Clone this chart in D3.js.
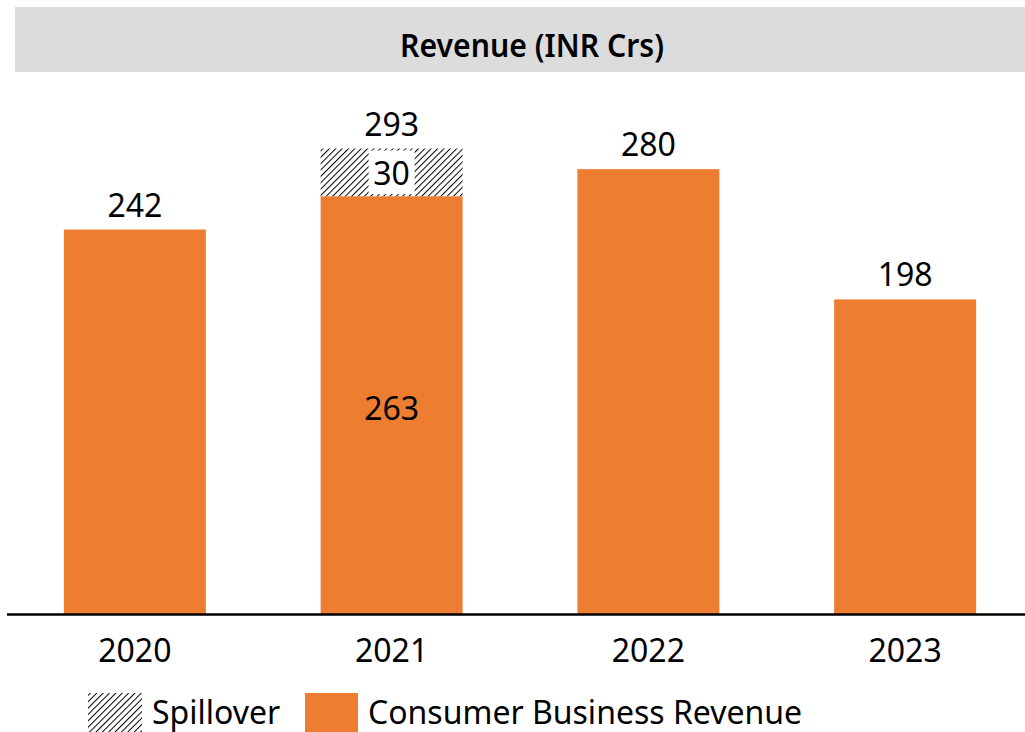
<!DOCTYPE html>
<html><head><meta charset="utf-8">
<script src="https://cdn.jsdelivr.net/npm/d3@7"></script>
<style>html,body{margin:0;padding:0;background:#fff;overflow:hidden}svg{display:block}</style>
</head><body>
<script>
const years = ["2020","2021","2022","2023"];
const consumer = [242, 263, 280, 198];
const spillover = [0, 30, 0, 0];
const totals = [242, 293, 280, 198];
const titleText = "Revenue (INR Crs)";
const legendLabels = ["Spillover", "Consumer Business Revenue"];

const W = 1025, H = 732;
const FONT = "'Noto Sans', 'Open Sans', sans-serif";
const ORANGE = "#ED7D31";
const FS = 32;
const svg = d3.select("body").append("svg").attr("width", W).attr("height", H);

const defs = svg.append("defs");
const pat = defs.append("pattern").attr("id","hatch").attr("patternUnits","userSpaceOnUse")
  .attr("width",4.5).attr("height",4.5).attr("patternTransform","rotate(45)");
pat.append("rect").attr("width",4.5).attr("height",4.5).attr("fill","#fff");
pat.append("line").attr("x1",0).attr("y1",0).attr("x2",0).attr("y2",4.5).attr("stroke","#000").attr("stroke-width",2);

// title band
svg.append("rect").attr("x",15).attr("y",7).attr("width",W-15).attr("height",65).attr("fill","#dcdcdc");
svg.append("text").attr("x",532).attr("y",57).attr("text-anchor","middle")
  .attr("font-family",FONT).attr("font-size",33).attr("font-weight",600).attr("fill","#000")
  .attr("textLength",264).attr("lengthAdjust","spacingAndGlyphs").text(titleText);

const x = d3.scaleBand().domain(years).range([6.5, 1033.5]).paddingInner(0.447).paddingOuter(0.2235);
const y = d3.scaleLinear().domain([0, 293]).range([614, 148.5]);

const g = svg.append("g");
g.selectAll("rect.c").data(years).join("rect").attr("class","c")
  .attr("x", d => x(d)).attr("width", x.bandwidth())
  .attr("y", (d,i) => y(consumer[i])).attr("height", (d,i) => y(0) - y(consumer[i]))
  .attr("fill", ORANGE);
g.selectAll("rect.s").data(years.filter((d,i)=>spillover[i]>0)).join("rect").attr("class","s")
  .attr("x", d => x(d)).attr("width", x.bandwidth())
  .attr("y", d => { const i = years.indexOf(d); return y(consumer[i] + spillover[i]); })
  .attr("height", d => { const i = years.indexOf(d); return y(consumer[i]) - y(consumer[i] + spillover[i]); })
  .attr("fill", "url(#hatch)");

// axis
const axis = d3.axisBottom(x).tickSize(0).tickPadding(25);
const ax = svg.append("g").attr("transform", `translate(0,${y(0)})`).call(axis);
ax.select(".domain").remove();
ax.selectAll("text").attr("font-family",FONT).attr("font-size",FS).attr("fill","#000");
svg.append("line").attr("x1",7).attr("x2",W).attr("y1",y(0)+0.5).attr("y2",y(0)+0.5).attr("stroke","#000").attr("stroke-width",2.5);

// total labels
g.selectAll("text.t").data(years).join("text").attr("class","t")
  .attr("x", d => x(d) + x.bandwidth()/2).attr("y", (d,i) => y(totals[i]) - 13)
  .attr("text-anchor","middle").attr("font-family",FONT).attr("font-size",FS).attr("fill","#000")
  .text((d,i) => totals[i]);

years.forEach((d,i) => {
  if (spillover[i] > 0) {
    const cx = x(d) + x.bandwidth()/2;
    const sy = (y(consumer[i]) + y(consumer[i]+spillover[i]))/2;
    g.append("rect").attr("x", cx-23).attr("y", y(consumer[i]+spillover[i])+2).attr("width",46)
      .attr("height", y(consumer[i]) - y(consumer[i]+spillover[i]) - 4).attr("fill","#fff");
    g.append("text").attr("x",cx).attr("y",sy).attr("dominant-baseline","central").attr("text-anchor","middle")
      .attr("font-family",FONT).attr("font-size",FS).text(spillover[i]);
    g.append("text").attr("x",cx).attr("y",(y(0)+y(consumer[i]))/2 + 2).attr("dominant-baseline","central").attr("text-anchor","middle")
      .attr("font-family",FONT).attr("font-size",FS).text(consumer[i]);
  }
});

// legend
const lg = svg.append("g");
lg.append("rect").attr("x",88).attr("y",693).attr("width",54).attr("height",45).attr("fill","url(#hatch)");
lg.append("text").attr("x",152).attr("y",724).attr("font-family",FONT).attr("font-size",FS).text(legendLabels[0]);
lg.append("rect").attr("x",305).attr("y",693).attr("width",53).attr("height",45).attr("fill",ORANGE);
lg.append("text").attr("x",368).attr("y",724).attr("font-family",FONT).attr("font-size",FS).text(legendLabels[1]);
</script>
</body></html>
